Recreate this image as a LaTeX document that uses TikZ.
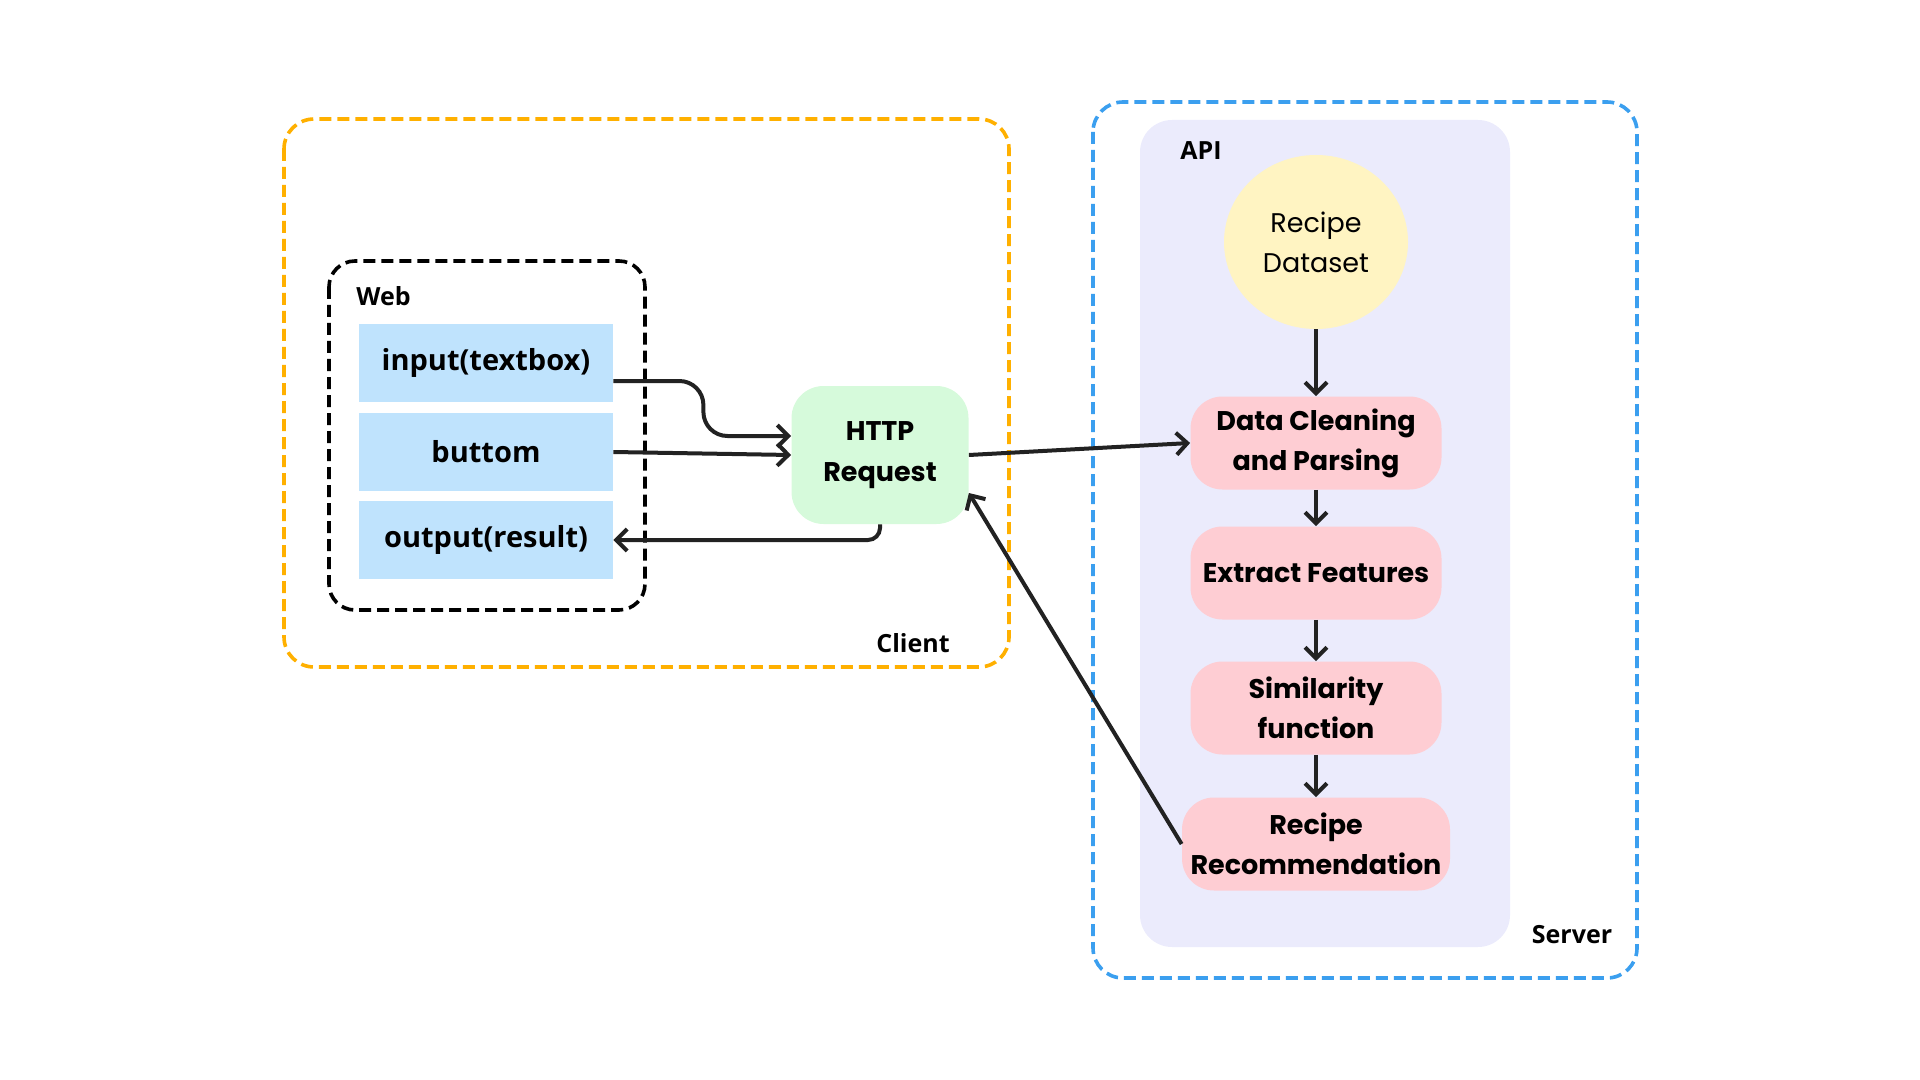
\documentclass[tikz,border=0pt]{standalone}
\usepackage{fontspec}
\setmainfont{Poppins}
\newfontfamily\websf{Open Sans}
\usetikzlibrary{arrows.meta,shapes.geometric,calc}
\definecolor{orng}{HTML}{FFB000}
\definecolor{skyb}{HTML}{3B9FEF}
\definecolor{lav}{HTML}{EBEBFC}
\definecolor{yel}{HTML}{FFF4C2}
\definecolor{pnk}{HTML}{FECDD3}
\definecolor{grn}{HTML}{D6FADB}
\definecolor{lblu}{HTML}{BFE3FD}
\definecolor{ink}{HTML}{222222}
\tikzset{
  webbox/.style={fill=lblu, minimum width=127pt, minimum height=39pt, inner sep=0pt,
    font=\websf\bfseries\fontsize{14.5}{17}\selectfont, text=black},
  stagebox/.style={fill=pnk, rounded corners=16pt, minimum width=125.5pt, minimum height=46.5pt,
    inner sep=0pt, align=center, font=\bfseries\fontsize{13.5}{20}\selectfont, text=black},
  grouplabel/.style={font=\websf\bfseries\fontsize{12.5}{14}\selectfont, text=black, inner sep=0pt},
  conn/.style={draw=ink, line width=2pt, -{Straight Barb[length=5.5pt,width=11pt,line width=2pt]}},
}
\begin{document}
\begin{tikzpicture}[x=0.5pt,y=-0.5pt]
\useasboundingbox (0,0) rectangle (1920,1080);
% Client group
\draw[orng, line width=1.8pt, dash pattern=on 6pt off 3pt, rounded corners=15pt]
  (284,119) rectangle (1009,667);
\node[grouplabel] (client) at (913,643) {Client};
% Web group
\draw[black, line width=1.8pt, dash pattern=on 6pt off 3pt, rounded corners=13pt]
  (329,261) rectangle (645,610);
\node[grouplabel, anchor=west] (web) at (356,296) {Web};
\node[webbox] (inp) at (486,363) {input(textbox)};
\node[webbox] (but) at (486,452) {buttom};
\node[webbox] (out) at (486,540) {output(result)};
% HTTP
\node[fill=grn, rounded corners=16pt, minimum width=88.5pt, minimum height=69pt, inner sep=0pt,
  align=center, font=\bfseries\fontsize{13.5}{20.5}\selectfont] (http) at (880,455) {HTTP\\Request};
% Server group
\draw[skyb, line width=1.8pt, dash pattern=on 6pt off 3pt, rounded corners=15pt]
  (1093,102) rectangle (1637,978);
\fill[lav, rounded corners=16pt] (1140,120) rectangle (1510,947);
\node[grouplabel] (api) at (1201,151) {API};
\node[grouplabel] (server) at (1572,935) {Server};
\node[ellipse, fill=yel, minimum width=92pt, minimum height=87pt, inner sep=0pt, align=center,
  font=\fontsize{13.5}{20}\selectfont] (ds) at (1316,242) {Recipe\\Dataset};
\node[stagebox] (dc) at (1316,443) {Data Cleaning\\and Parsing};
\node[stagebox] (ef) at (1316,573) {Extract Features};
\node[stagebox] (sf) at (1316,708) {Similarity\\function};
\node[stagebox, minimum width=134pt] (rr) at (1316,844) {Recipe\\Recommendation};
% connectors
\draw[conn, rounded corners=12pt] ([yshift=-9pt]inp.east) -- ($([yshift=-9pt]inp.east)+(90,0)$)
  |- ([yshift=9.5pt]http.west);
\draw[conn] (but.east) -- (http.west);
\draw[conn, rounded corners=6pt] (http.south) |- (out.east);
\draw[conn] (http.east) -- (dc.west);
\draw[conn] (rr.west) -- ([yshift=-19pt]http.east);
\draw[conn] (ds.south) -- (dc.north);
\draw[conn] (dc.south) -- (ef.north);
\draw[conn] (ef.south) -- (sf.north);
\draw[conn] (sf.south) -- (rr.north);
\end{tikzpicture}
\end{document}
